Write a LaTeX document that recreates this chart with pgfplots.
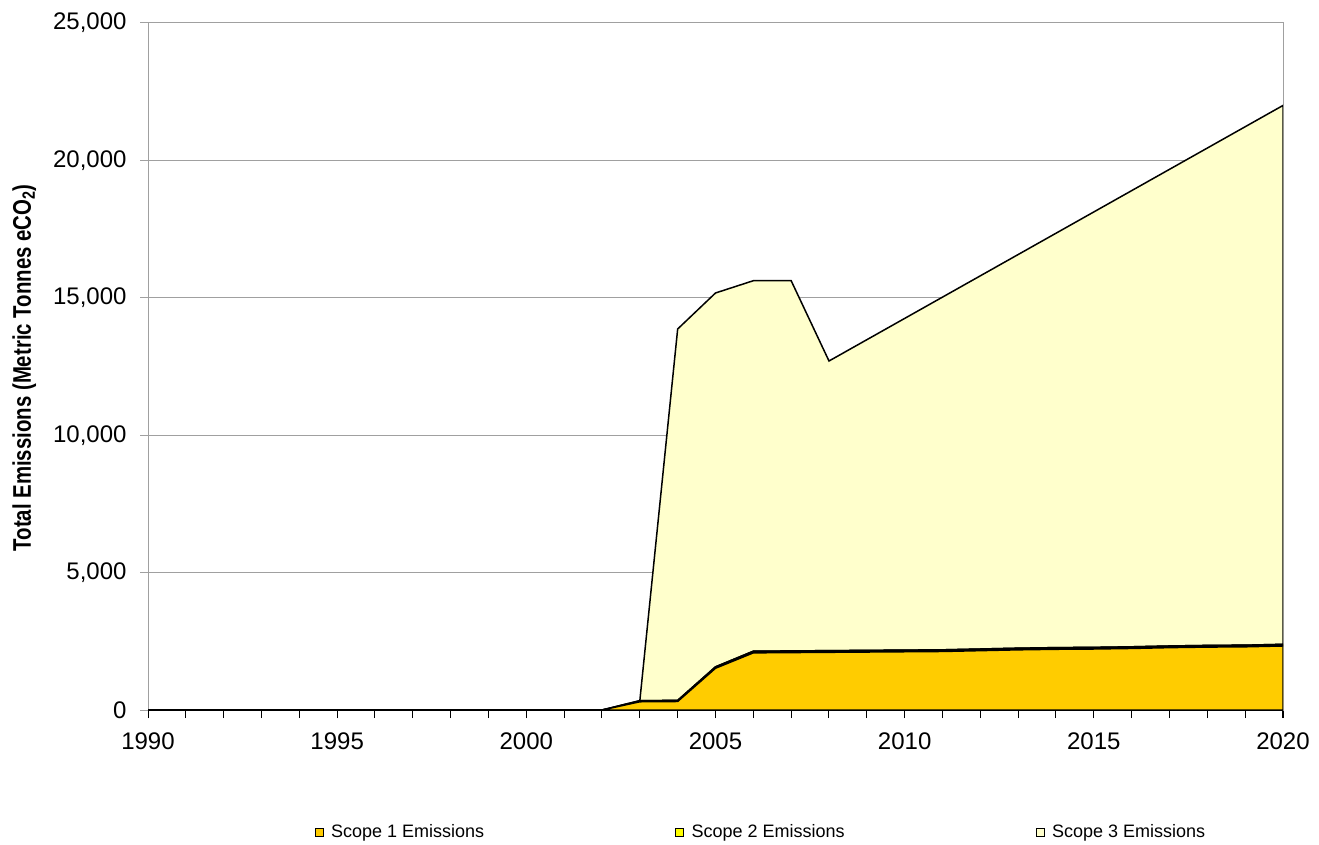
\documentclass[border=0pt]{standalone}
\usepackage{pgfplots}
\pgfplotsset{compat=1.18}
\usepackage{fontspec}
\setmainfont{Liberation Sans}
\newfontfamily\labfont[FakeStretch=0.8]{Liberation Sans}
\definecolor{sone}{HTML}{FFCC00}
\definecolor{stwo}{HTML}{FFFF00}
\definecolor{sthree}{HTML}{FFFFCC}
\definecolor{gridgray}{HTML}{A0A0A0}
\pgfplotsset{lgsq/.style={legend image code/.code={\draw[##1,draw=black,line width=1pt] (0pt,-4pt) rectangle (8pt,4pt); \path[draw=none,fill=none] (0pt,0pt) -- (14pt,0pt);}}}
\begin{document}
\begin{tikzpicture}
\path[use as bounding box] (0,0) rectangle (1319pt,844pt);
\begin{axis}[
  at={(148pt,134pt)}, anchor=south west, scale only axis,
  width=1135pt, height=687pt,
  xmin=1990, xmax=2020, ymin=0, ymax=25000,
  xtick={1990,1995,...,2020}, minor xtick={1990,...,2020},
  ytick={0,5000,...,25000},
  xtick pos=bottom, ytick pos=left,
  stack plots=y,
  axis line style={gridgray, line width=1pt},
  ymajorgrids, grid style={gridgray, line width=1pt},
  tick align=outside, major tick length=8pt, minor tick length=8pt,
  xtick style={black, line width=1pt},
  minor x tick style={black, line width=1pt},
  ytick style={gridgray, line width=1pt},
  /pgf/number format/assume math mode=true,
  scaled y ticks=false,
  xticklabel style={font=\fontsize{24}{28}\selectfont, /pgf/number format/1000 sep={}, yshift=-11pt},
  yticklabel style={font=\fontsize{24}{28}\selectfont, /pgf/number format/1000 sep={,}, xshift=-10pt},
  ylabel={Total Emissions (Metric Tonnes eCO\textsubscript{2})},
  ylabel style={font=\labfont\bfseries\fontsize{25.5}{28}\selectfont, at={(axis description cs:-0.109,0.498)}, anchor=center},
  legend columns=3,
  legend style={at={(axis description cs:0.540,-0.1776)}, anchor=center, draw=none, fill=none,
    font=\fontsize{18}{20}\selectfont,
    /tikz/every even column/.append style={column sep=189pt}},
]
\addplot[fill=sone, draw=black, line width=1.5pt, lgsq]
coordinates {
(1990,0)(1991,0)(1992,0)(1993,0)(1994,0)(1995,0)(1996,0)(1997,0)(1998,0)(1999,0)(2000,0)(2001,0)(2002,0)
(2003,300)(2004,310)(2005,1520)(2006,2080)(2007,2090)(2008,2100)(2009,2110)(2010,2120)(2011,2130)
(2012,2160)(2013,2190)(2014,2210)(2015,2220)(2016,2240)(2017,2270)(2018,2290)(2019,2300)(2020,2330)
} \closedcycle;
\addlegendentry{Scope 1 Emissions}
\addplot[fill=stwo, draw=black, line width=1.5pt, lgsq]
coordinates {
(1990,0)(1991,0)(1992,0)(1993,0)(1994,0)(1995,0)(1996,0)(1997,0)(1998,0)(1999,0)(2000,0)(2001,0)(2002,0)
(2003,40)(2004,40)(2005,50)(2006,60)(2007,60)(2008,60)(2009,60)(2010,60)(2011,60)
(2012,60)(2013,60)(2014,60)(2015,60)(2016,60)(2017,60)(2018,60)(2019,60)(2020,60)
} \closedcycle;
\addlegendentry{Scope 2 Emissions}
\addplot[fill=sthree, draw=black, line width=1.5pt, lgsq]
coordinates {
(1990,0)(1991,0)(1992,0)(1993,0)(1994,0)(1995,0)(1996,0)(1997,0)(1998,0)(1999,0)(2000,0)(2001,0)(2002,0)
(2003,0)(2004,13515)(2005,13605)(2006,13482)(2007,13472)(2008,10540)(2009,11305)(2010,12070)(2011,12835)
(2012,13580)(2013,14325)(2014,15080)(2015,15845)(2016,16600)(2017,17345)(2018,18100)(2019,18865)(2020,19610)
} \closedcycle;
\addlegendentry{Scope 3 Emissions}
\draw[black, line width=1.5pt] (rel axis cs:0,0) -- (rel axis cs:1,0);
\end{axis}
\end{tikzpicture}
\end{document}
